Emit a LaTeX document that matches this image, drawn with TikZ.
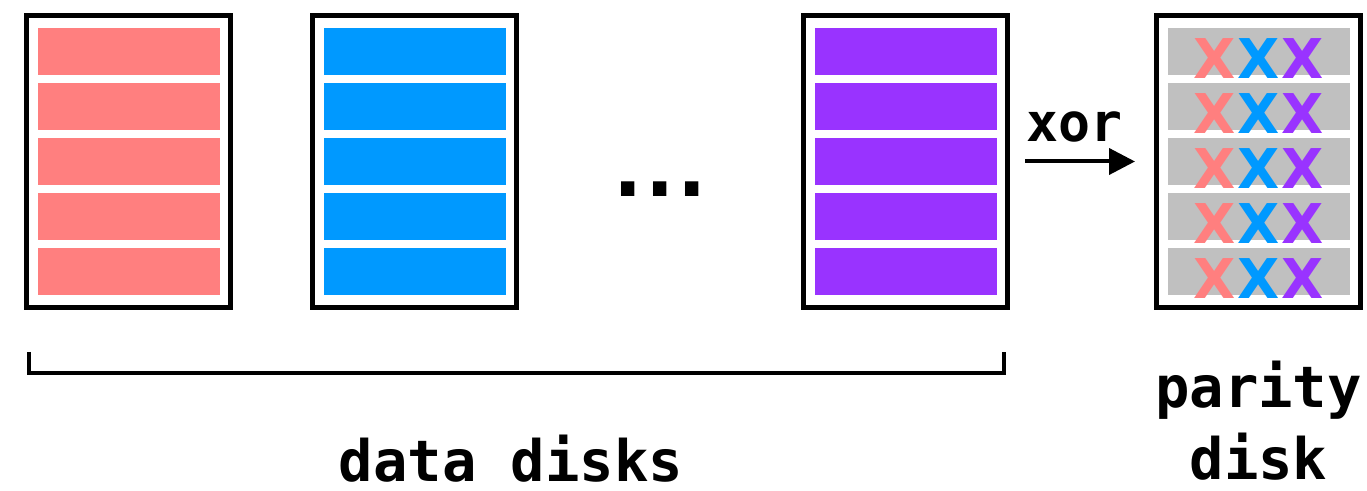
\documentclass[tikz,border=0pt]{standalone}
\usepackage{fontspec}
\usepackage{tikz}
\usetikzlibrary{arrows.meta}
\newfontfamily\monolabel{DejaVu Sans Mono}
\newfontfamily\xorletter{DejaVu Sans}
\definecolor{diskred}{HTML}{FF7F7F}
\definecolor{diskblue}{HTML}{0099FF}
\definecolor{diskpurple}{HTML}{9933FF}
\definecolor{paritygray}{HTML}{C0C0C0}

\begin{document}
\begin{tikzpicture}[x=0.5pt,y=-0.5pt,
  disk/.style={draw,line width=2.5pt,minimum width=102pt,minimum height=146pt,inner sep=0pt},
  xmark/.style={font=\xorletter\bfseries\fontsize{27.4pt}{30pt}\selectfont,anchor=base,inner sep=0pt},
  disklabel/.style={font=\monolabel\bfseries\fontsize{28.6pt}{36pt}\selectfont,inner sep=0pt},
  oplabel/.style={font=\monolabel\bfseries\fontsize{26.6pt}{30pt}\selectfont,inner sep=0pt},
  dotlabel/.style={font=\monolabel\bfseries\fontsize{41pt}{44pt}\selectfont,inner sep=0pt},
  xorarrow/.style={line width=2pt,-{Triangle[length=13pt,width=13pt]},shorten <=7.5pt,shorten >=9.5pt},
  databrace/.style={line width=2.25pt}]
\useasboundingbox (0,0) rectangle (1367,491);
% data disks
\node[disk] (disk1) at (128.5,161.5) {};
\node[disk] (disk2) at (414.5,161.5) {};
\node[disk] (disk3) at (905.5,161.5) {};
% parity disk
\node[disk] (parity) at (1258.5,161.5) {};
% stripes
\foreach \d/\c in {disk1/diskred,disk2/diskblue,disk3/diskpurple,parity/paritygray}
  \foreach \ya in {15,70,125,180,235}
    \fill[\c] ([shift={(14,\ya)}]\d.north west) rectangle ([shift={(196,\ya+47)}]\d.north west);
% xor of the stripes
\foreach \k in {0,...,4}
  \foreach \c/\dx in {diskred/-44,diskblue/0,diskpurple/44}
    \node[xmark,text=\c] (px\k\c) at ([shift={(\dx,66+55*\k)}]parity.north) {X};
% dots between disks
\node[dotlabel,anchor=base] (dots) at (660.5,197) {.\kern-8.7pt.\kern-8.7pt.};
% xor arrow
\draw[xorarrow] (disk3.east) -- (parity.west)
  node[oplabel,pos=0.45,anchor=base,yshift=10pt] (xorlabel) {xor};
% bracket under the data disks
\draw[databrace] (29,352) -- (29,373) -- (1004,373) -- (1004,352);
% labels
\node[disklabel,anchor=base] (datalabel) at (511,482) {data disks};
\node[disklabel,anchor=base,align=center] (paritylabel) at (1258.5,480) {parity\\disk};
\end{tikzpicture}
\end{document}
